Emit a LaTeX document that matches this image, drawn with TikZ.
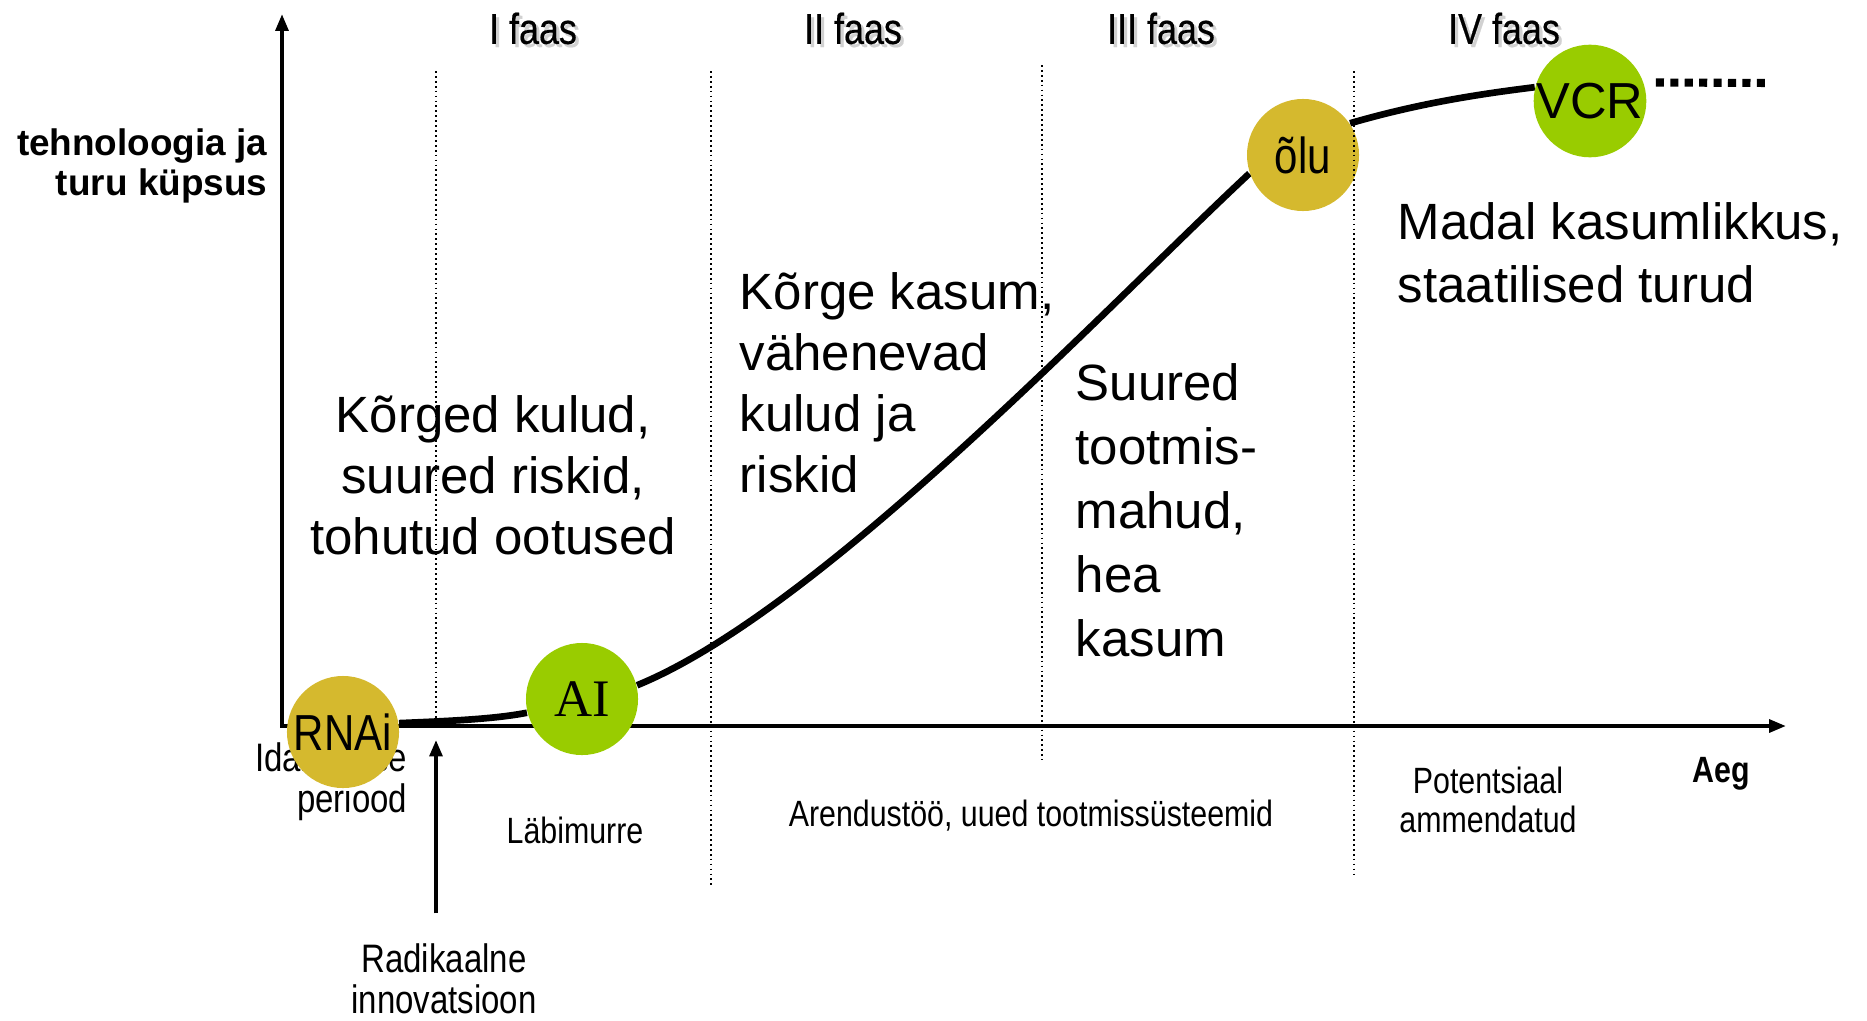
\documentclass[tikz,border=0pt]{standalone}
\usepackage{fontspec}
\setmainfont{Liberation Sans}
\newfontfamily\narrowfont[FakeStretch=0.83]{Liberation Sans}
\newfontfamily\headfont[FakeStretch=0.83,FakeBold=0.4]{Liberation Sans}
\newfontfamily\serifai{Liberation Serif}
\usetikzlibrary{arrows.meta,positioning,calc,backgrounds}
\definecolor{olugold}{RGB}{213,185,46}
\definecolor{aigreen}{RGB}{153,204,0}
% text with a soft grey drop shadow
\newcommand\dropshadow[1]{\makebox[0pt][l]{\kern0.9pt\raisebox{-0.9pt}{\textcolor{black!18}{#1}}}#1}
\tikzset{% looks of the phase chart
	axisline/.style={line width=1.1pt, {Triangle[length=4.8pt,width=3.6pt]}-{Triangle[length=4.8pt,width=3.6pt]}},
	phaseline/.style={line width=0.4pt, dash pattern=on 0.5pt off 0.9pt},
	scurve/.style={line width=1.9pt},
	pointer/.style={line width=1pt, -{Triangle[length=4.6pt,width=3.6pt]}},
	trail/.style={line width=2.3pt, dash pattern=on 2.3pt off 1.8pt},
	bubble/.style={circle, minimum size=1.12cm, inner sep=0pt},
	phasehead/.style={font=\headfont\fontsize{12.3}{14}\selectfont, inner sep=0pt},
	bigtext/.style={font=\fontsize{14.5}{17.3}\selectfont, inner sep=0pt},
	note/.style={font=\narrowfont\fontsize{10.4}{11.3}\selectfont, inner sep=0pt, align=center},
	largenote/.style={font=\narrowfont\fontsize{11.3}{11.6}\selectfont, inner sep=0pt, align=center}
}
\begin{document}
\begin{tikzpicture}[x=0.01cm, y=0.01cm]
	\useasboundingbox (0,0) rectangle (1867,1020);
	
	% axes
	\coordinate (origin) at (282,294);
	\draw[axisline] (282,1006) -- (origin) -- (1786,294);
	
	% phase headings
	\node[phasehead] (faasI) at (533,990) {\dropshadow{I faas}};
	\node[phasehead] (faasII) at (853,990) {\dropshadow{II faas}};
	\node[phasehead] (faasIII) at (1161,990) {\dropshadow{III faas}};
	\node[phasehead] (faasIV) at (1504,990) {\dropshadow{IV faas}};
	
	\node[font=\bfseries\fontsize{10.5}{11.2}\selectfont, inner sep=0pt, align=right, anchor=east] (ylabel) at (268,854) {tehnoloogia ja\\turu küpsus};
	
	% texts of the phases
	\node[bigtext, align=center] (costs) at (493,545) {Kõrged kulud,\\suured riskid,\\tohutud ootused};
	\node[bigtext, align=left, anchor=west] (profit) at (739,637) {Kõrge kasum,\\vähenevad\\kulud ja\\riskid};
	\node[bigtext, font=\fontsize{14.5}{18.2}\selectfont, align=left, anchor=west] (volume) at (1075,510) {Suured\\tootmis-\\mahud,\\hea\\kasum};
	\node[bigtext, font=\fontsize{14.5}{18}\selectfont, align=left, anchor=west] (static) at (1397,767) {Madal kasumlikkus,\\staatilised turud};
	
	% labels under the axis
	\node[largenote, align=right, anchor=east] (idanemise) at (408,238) {Idanemise\\periood};
	\node[note] (labimurre) at (575,190) {Läbimurre};
	\node[note] (arendus) at (1031,204) {Arendustöö, uued tootmissüsteemid};
	\node[note] (potentsiaal) at (1488,220) {Potentsiaal\\ammendatud};
	\node[note, font=\narrowfont\bfseries\fontsize{10.4}{11.2}\selectfont] (aeg) at (1721,246) {Aeg};
	\node[largenote] (radical) at (444,41) {Radikaalne\\innovatsioon};
	
	% the four examples
	\node[bubble, fill=olugold, font=\narrowfont\fontsize{14.4}{16}\selectfont] (rnai) at (343,288) {RNAi};
	\node[bubble, fill=aigreen, font=\serifai\fontsize{15}{18}\selectfont] (ai) at (582,321) {AI};
	\node[bubble, fill=olugold, font=\narrowfont\fontsize{14.4}{16}\selectfont] (olu) at (1303,865) {õlu};
	\node[bubble, fill=aigreen, font=\fontsize{14.4}{16}\selectfont] (vcr) at (1590,919) {VCR};
	
	\begin{scope}[on background layer]
		\draw[scurve] (rnai.9) .. controls (450,299) and (495,301) .. (ai.194);
		\draw[scurve] (ai.14) .. controls (821,410) and (1104,711) .. (olu.199);
		\draw[scurve] (olu.34) .. controls (1420,917) and (1480,926) .. (vcr.166);
	\end{scope}
	
	% phase borders
	\coordinate (breakthru) at (436,294);
	\draw[phaseline] (436,949) -- (breakthru);
	\draw[phaseline] (711,949) -- (711,133);
	\draw[phaseline] (1042,955) -- (1042,260);
	\draw[phaseline] (1354,949) -- (1354,145);
	
	\draw[pointer] ($(radical.north -| breakthru)+(0,30)$) -- ([yshift=-4]breakthru);
	
	\coordinate (trailend) at (1771,937);
	\draw[trail, shorten <=3.4pt] (vcr.19) -- (trailend);
\end{tikzpicture}
\end{document}
